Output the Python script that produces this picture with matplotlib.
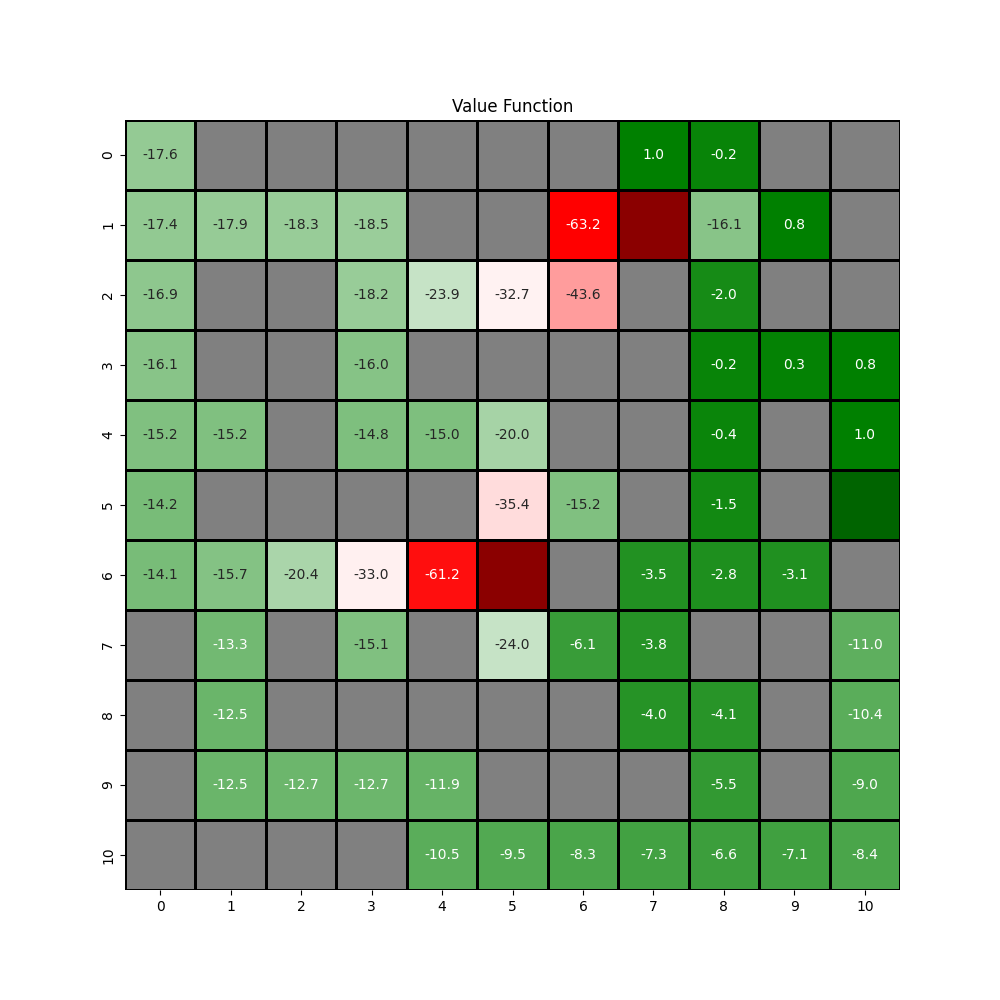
import numpy as np
import matplotlib
matplotlib.use("Agg")
import matplotlib.pyplot as plt
from matplotlib.colors import LinearSegmentedColormap, ListedColormap
import seaborn as sns

W = np.nan  # wall
T = "T"     # trap
G = "G"     # goal

grid = [
    [-17.6, W, W, W, W, W, W, 1.0, -0.2, W, W],
    [-17.4, -17.9, -18.3, -18.5, W, W, -63.2, T, -16.1, 0.8, W],
    [-16.9, W, W, -18.2, -23.9, -32.7, -43.6, W, -2.0, W, W],
    [-16.1, W, W, -16.0, W, W, W, W, -0.2, 0.3, 0.8],
    [-15.2, -15.2, W, -14.8, -15.0, -20.0, W, W, -0.4, W, 1.0],
    [-14.2, W, W, W, W, -35.4, -15.2, W, -1.5, W, G],
    [-14.1, -15.7, -20.4, -33.0, -61.2, T, W, -3.5, -2.8, -3.1, W],
    [W, -13.3, W, -15.1, W, -24.0, -6.1, -3.8, W, W, -11.0],
    [W, -12.5, W, W, W, W, W, -4.0, -4.1, W, -10.4],
    [W, -12.5, -12.7, -12.7, -11.9, W, W, W, -5.5, W, -9.0],
    [W, W, W, W, -10.5, -9.5, -8.3, -7.3, -6.6, -7.1, -8.4],
]

n = len(grid)
values = np.array([[v if isinstance(v, float) else np.nan for v in row] for row in grid])
terminal = np.array([[0 if v == T else (1 if v == G else np.nan) for v in row] for row in grid], dtype=float)

cmap = LinearSegmentedColormap.from_list("rwg", ["red", "white", "green"])

fig, ax = plt.subplots(figsize=(10, 10))

# walls / background
sns.heatmap(np.zeros((n, n)), cmap=ListedColormap(["gray"]), cbar=False,
            linewidths=0.75, linecolor="black", ax=ax)

# terminal states
sns.heatmap(terminal, mask=np.isnan(terminal), cmap=ListedColormap(["darkred", "darkgreen"]),
            vmin=0, vmax=1, cbar=False, linewidths=2, linecolor="black", ax=ax)

# value function
sns.heatmap(values, mask=np.isnan(values), cmap=cmap,
            vmin=np.nanmin(values), vmax=np.nanmax(values),
            annot=True, fmt=".1f", cbar=False, linewidths=2, linecolor="black", ax=ax)

ax.set_title("Value Function")
plt.savefig("out.png", dpi=100)
